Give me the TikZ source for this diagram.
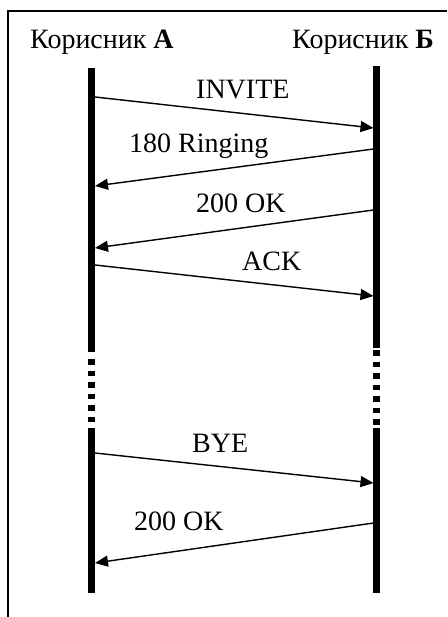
\documentclass[tikz,border=0pt]{standalone}
\usepackage{fontspec}
\setmainfont{Liberation Serif}
\usetikzlibrary{arrows.meta}
\tikzset{
  lbl/.style={inner sep=0pt, anchor=base west, font=\fontsize{28}{33}\selectfont},
  life/.style={line width=6.5pt},
  lifedots/.style={line width=6.5pt, dash pattern=on 5.7pt off 5.8pt},
  msg/.style={line width=1.4pt, -{Triangle[length=13pt,width=11pt]}},
  frame/.style={line width=1.3pt}
}
\begin{document}
\begin{tikzpicture}[x=1pt,y=-1pt]
\useasboundingbox (0,0) rectangle (447,617);
\fill[white] (0,0) rectangle (447,617);
% frame
\coordinate (f1) at (8,617);
\coordinate (f2) at (8,11);
\coordinate (f3) at (447,11);
\draw[frame] (f1) -- (f2) -- (f3);
% headers
\node[lbl] (hA) at (30,49) {Корисник \textbf{А}};
\node[lbl] (hB) at (292,49) {Корисник \textbf{Б}};
% lifelines
\coordinate (A0) at (91.5,68);
\coordinate (A1) at (91.5,352);
\coordinate (A2) at (91.5,359);
\coordinate (A3) at (91.5,424);
\coordinate (A4) at (91.5,428);
\coordinate (A5) at (91.5,593);
\coordinate (B0) at (376.5,66);
\coordinate (B1) at (376.5,348);
\coordinate (B2) at (376.5,350);
\coordinate (B3) at (376.5,425);
\coordinate (B4) at (376.5,428);
\coordinate (B5) at (376.5,593);
\draw[life] (A0) -- (A1);
\draw[lifedots] (A2) -- (A3);
\draw[life] (A4) -- (A5);
\draw[life] (B0) -- (B1);
\draw[lifedots] (B2) -- (B3);
\draw[life] (B4) -- (B5);
% message end points
\coordinate (m1a) at (95,97);
\coordinate (m1b) at (373.5,128);
\coordinate (m2b) at (373.5,149);
\coordinate (m2a) at (95,186);
\coordinate (m3b) at (373.5,210);
\coordinate (m3a) at (95,248);
\coordinate (m4a) at (95,265);
\coordinate (m4b) at (373.5,296);
\coordinate (m5a) at (95,453);
\coordinate (m5b) at (373.5,483);
\coordinate (m6b) at (373.5,523);
\coordinate (m6a) at (95,563);
\draw[msg] (m1a) -- (m1b);
\draw[msg] (m2b) -- (m2a);
\draw[msg] (m3b) -- (m3a);
\draw[msg] (m4a) -- (m4b);
\draw[msg] (m5a) -- (m5b);
\draw[msg] (m6b) -- (m6a);
% labels
\node[lbl] (l1) at (196,99) {INVITE};
\node[lbl] (l2) at (129,152.5) {180 Ringing};
\node[lbl] (l3) at (196,213) {200 OK};
\node[lbl] (l4) at (242,270) {ACK};
\node[lbl] (l5) at (192,452.5) {BYE};
\node[lbl] (l6) at (134,530.5) {200 OK};
\end{tikzpicture}
\end{document}
